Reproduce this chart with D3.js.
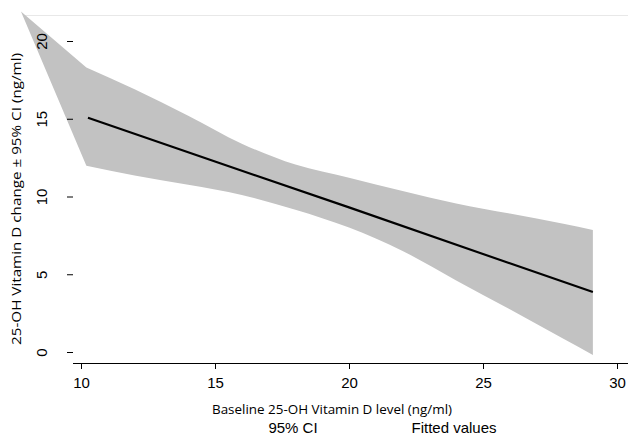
<!DOCTYPE html>
<html>
<head>
<meta charset="utf-8">
<script src="https://cdn.jsdelivr.net/npm/d3@7"></script>
<style>
  body { margin: 0; background: #fff; }
  svg { display: block; }
</style>
</head>
<body>
<div id="chart"></div>
<script>
// fitted line with 95% CI band
var bandX     = [7.76, 10.2, 12, 14, 16, 18, 20, 22, 24, 26, 28, 29.1];
var bandUpper = [21.9, 18.3, 16.9, 15.2, 13.4, 12.05, 11.2, 10.35, 9.55, 8.9, 8.25, 7.85];
var bandLower = [21.9, 11.97, 11.35, 10.75, 10.1, 9.15, 8.0, 6.5, 4.6, 2.75, 0.85, -0.19];

var fitX = [10.26, 15, 20, 25, 29.1];
var fitY = [15.06, 12.25, 9.3, 6.3, 3.86];

var xTicks = [10, 15, 20, 25, 30];
var yTicks = [0, 5, 10, 15, 20];
var legendLabels = ["95% CI", "Fitted values"];

var width = 628,
    height = 437;

var svg = d3.select("#chart").append("svg")
    .attr("width", width)
    .attr("height", height);

var x = d3.scaleLinear().domain([10, 30]).range([81, 617]);
var y = d3.scaleLinear().domain([0, 20]).range([352, 41]);

// faint top border line
svg.append("line")
    .attr("x1", 25).attr("x2", width)
    .attr("y1", 15.5).attr("y2", 15.5)
    .attr("stroke", "#e8e8e8")
    .attr("stroke-width", 1);

// CI band: straight wedge out to the first point, smooth after it
// (both pieces in one path so there is no seam)
var band = bandX.map(function(d, i) { return {x: d, lo: bandLower[i], hi: bandUpper[i]}; });
var area = d3.area()
    .x(function(d) { return x(d.x); })
    .y0(function(d) { return y(d.lo); })
    .y1(function(d) { return y(d.hi); });

var wedge = area.curve(d3.curveLinear)(band.slice(0, 2));
var smooth = area.curve(d3.curveMonotoneX)(band.slice(1));

svg.append("path")
    .attr("fill", "#c2c2c2")
    .attr("d", wedge + smooth);

// fitted line
var fit = fitX.map(function(d, i) { return [d, fitY[i]]; });
svg.append("path")
    .datum(fit)
    .attr("fill", "none")
    .attr("stroke", "#000")
    .attr("stroke-width", 2.2)
    .attr("d", d3.line().x(function(d) { return x(d[0]); }).y(function(d) { return y(d[1]); }));

// x axis
var xAxis = svg.append("g")
    .attr("transform", "translate(0,363)")
    .call(d3.axisBottom(x).tickValues(xTicks).tickSize(6).tickSizeOuter(0).tickPadding(8));
xAxis.select(".domain").attr("d", "M73,0.5H" + width).attr("stroke", "#000");
xAxis.selectAll(".tick line").attr("stroke", "#000");
xAxis.selectAll(".tick text")
    .attr("font-family", "Liberation Sans, Arial, sans-serif")
    .attr("font-size", 15)
    .attr("fill", "#000");

// y axis (ticks only)
var yAxis = svg.append("g")
    .attr("transform", "translate(73,0)")
    .call(d3.axisLeft(y).tickValues(yTicks).tickSize(6).tickSizeOuter(0));
yAxis.select(".domain").remove();
yAxis.selectAll(".tick line").attr("stroke", "#000");
yAxis.selectAll(".tick text")
    .attr("font-family", "Liberation Sans, Arial, sans-serif")
    .attr("font-size", 15)
    .attr("fill", "#000")
    .attr("text-anchor", "middle")
    .attr("dy", null)
    .attr("x", null)
    .attr("transform", "translate(-26,0) rotate(-90)");

// axis titles
svg.append("text")
    .attr("x", 332)
    .attr("y", 414)
    .attr("text-anchor", "middle")
    .attr("font-family", "Open Sans, sans-serif")
    .attr("font-size", 12.5)
    .attr("textLength", 240)
    .attr("lengthAdjust", "spacingAndGlyphs")
    .text("Baseline 25-OH Vitamin D level (ng/ml)");

svg.append("text")
    .attr("transform", "translate(21,199) rotate(-90)")
    .attr("text-anchor", "middle")
    .attr("font-family", "Open Sans, sans-serif")
    .attr("font-size", 12.5)
    .attr("textLength", 292)
    .attr("lengthAdjust", "spacingAndGlyphs")
    .text("25-OH Vitamin D change \u00b1 95% CI (ng/ml)");

// legend labels
var legendX = [293, 454];
svg.selectAll(".leg")
    .data(legendLabels)
    .enter().append("text")
    .attr("class", "leg")
    .attr("x", function(d, i) { return legendX[i]; })
    .attr("y", 433)
    .attr("text-anchor", "middle")
    .attr("font-family", "Liberation Sans, Arial, sans-serif")
    .attr("font-size", 15)
    .text(function(d) { return d; });
</script>
</body>
</html>
